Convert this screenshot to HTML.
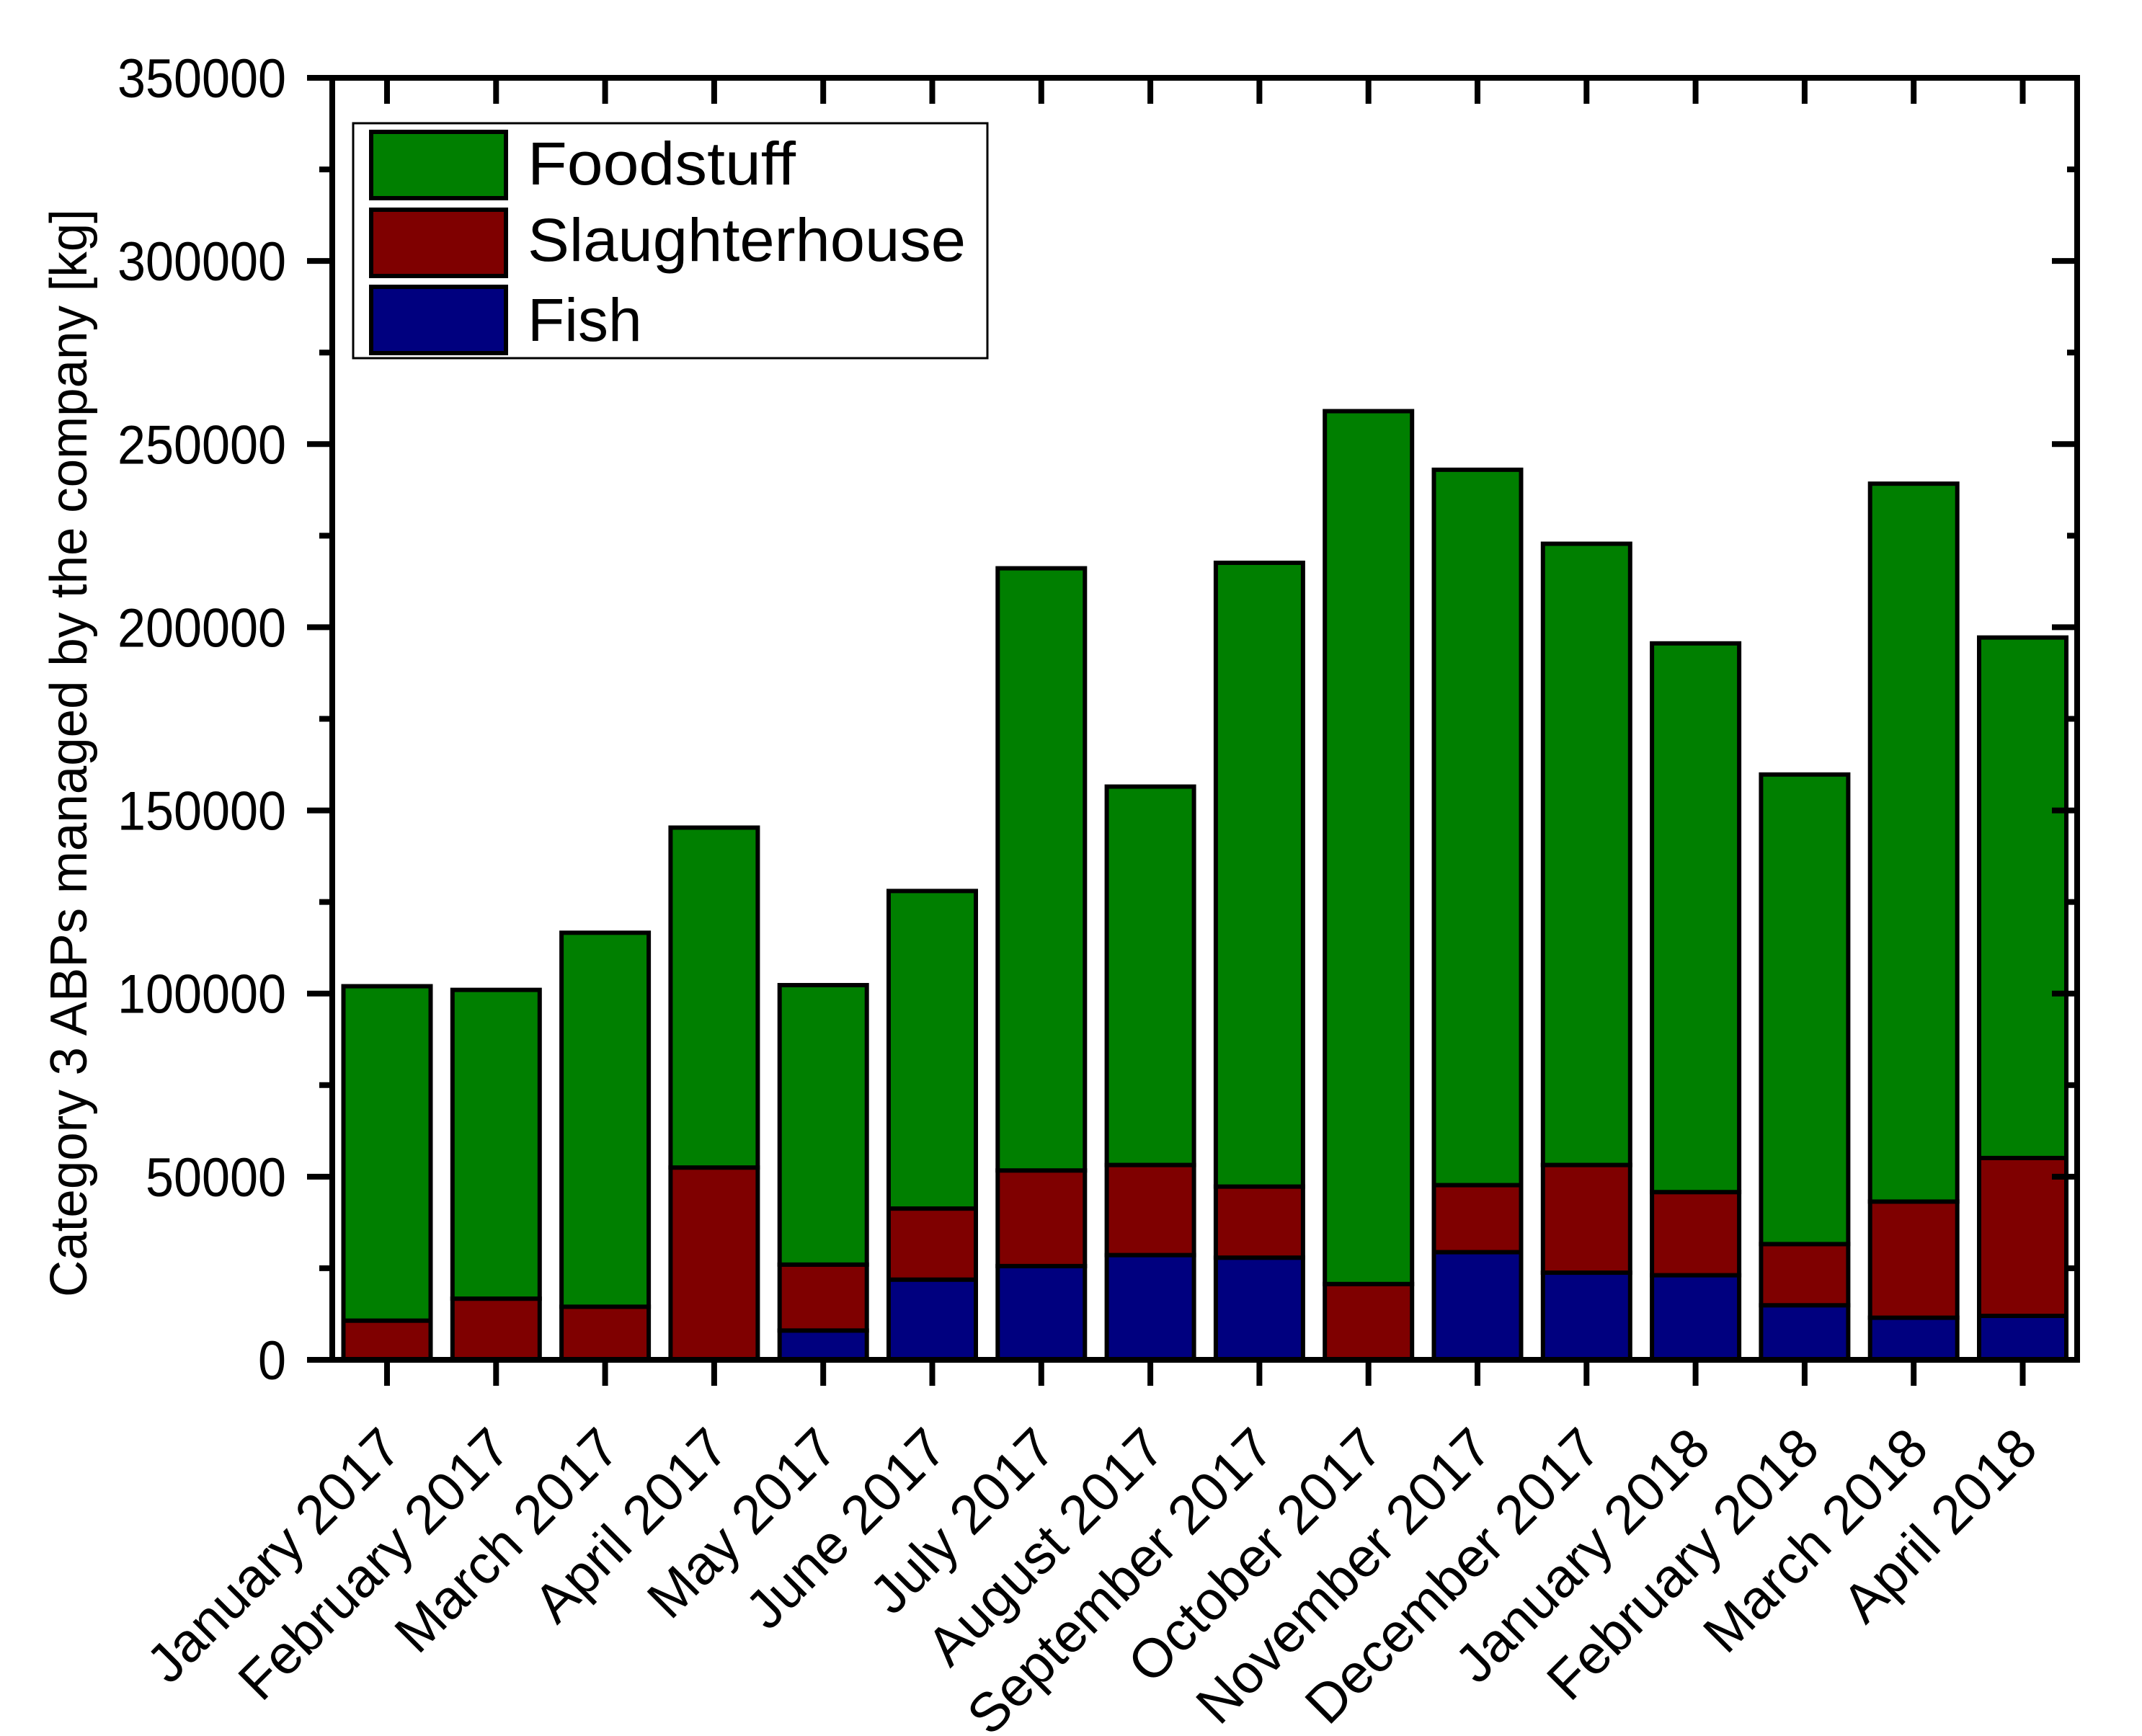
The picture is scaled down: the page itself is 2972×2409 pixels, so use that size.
<!DOCTYPE html>
<html><head><meta charset="utf-8"><style>html,body{margin:0;padding:0;background:#fff}svg{display:block}text{font-family:"Liberation Sans",Arial,sans-serif;fill:#000}</style></head>
<body>
<svg id="chart" width="2972" height="2409" viewBox="0 0 2972 2409" xmlns="http://www.w3.org/2000/svg">
<rect x="0" y="0" width="2972" height="2409" fill="#fff"/>
<g id="bars"></g>
<g id="axes"></g>
<text transform="translate(120,1045) rotate(-90)" text-anchor="middle" font-size="72" textLength="1510" lengthAdjust="spacingAndGlyphs">Category 3 ABPs managed by the company [kg]</text>
<g>
<rect x="490" y="171" width="880" height="326" fill="#fff" stroke="#000" stroke-width="3"/>
<rect x="515" y="183" width="187" height="92" fill="#007f00" stroke="#000" stroke-width="6"/>
<text x="732" y="256" font-size="84" textLength="372" lengthAdjust="spacingAndGlyphs">Foodstuff</text>
<rect x="515" y="291" width="187" height="92" fill="#7f0000" stroke="#000" stroke-width="6"/>
<text x="732" y="362" font-size="84" textLength="608" lengthAdjust="spacingAndGlyphs">Slaughterhouse</text>
<rect x="515" y="398" width="187" height="92" fill="#00007f" stroke="#000" stroke-width="6"/>
<text x="732" y="473" font-size="84">Fish</text>
</g>
</svg>
<script>
const categories = ["January 2017","February 2017","March 2017","April 2017","May 2017","June 2017","July 2017","August 2017","September 2017","October 2017","November 2017","December 2017","January 2018","February 2018","March 2018","April 2018"];
const fish = [0,0,0,0,8000,21900,25600,28600,27900,0,29400,23800,23100,14900,11500,12000];
const slaughterhouse = [10700,16700,14500,52500,18000,19400,26100,24600,19400,20700,18300,29400,22700,16700,31700,43100];
const foodstuff = [91300,84300,102100,92800,76300,86700,164400,103300,170300,238300,195300,169600,149800,128200,196000,142100];
const yTicks = [0,50000,100000,150000,200000,250000,300000,350000];
const yMax = 350000;

const NS = "http://www.w3.org/2000/svg";
const X0 = 461, X1 = 2882, Y0 = 1887, Y1 = 108;
const step = 151.3, first = 537, barW = 121;
function xPos(i){ return first + i*step; }
function yPos(v){ return Y0 - v/yMax*(Y0-Y1); }
function mk(tag, attrs, parent){ const e=document.createElementNS(NS,tag); for(const k in attrs) e.setAttribute(k,attrs[k]); parent.appendChild(e); return e; }

const bars = document.getElementById('bars');
const series = [[fish,'#00007f','fish'],[slaughterhouse,'#7f0000','slaughterhouse'],[foodstuff,'#007f00','foodstuff']];
categories.forEach((c,i)=>{
  let base = 0;
  series.forEach(([arr,col,nm])=>{
    const v = arr[i];
    if (v <= 0) return;
    const yt = yPos(base+v), yb = yPos(base);
    const r = mk('rect',{x:xPos(i)-barW/2, y:yt, width:barW, height:yb-yt, fill:col, stroke:'#000','stroke-width':6}, bars);
    
    
    base += v;
  });
});

const ax = document.getElementById('axes');
const frame = mk('rect',{x:X0,y:Y1,width:X1-X0,height:Y0-Y1,fill:'none',stroke:'#000','stroke-width':8}, ax);


for (let v=0; v<=yMax; v+=25000){
  const y = yPos(v), major = (v % 50000 === 0);
  const t1 = mk('line',{x1:X0, x2:X0-(major?35:18), y1:y, y2:y, stroke:'#000','stroke-width':8}, ax);
  
  
  const t2 = mk('line',{x1:X1, x2:X1-(major?35:14), y1:y, y2:y, stroke:'#000','stroke-width':8}, ax);
  
  
}
yTicks.forEach(v=>{
  const s = String(v);
  const t = mk('text',{x:397, y:yPos(v)+27, 'text-anchor':'end','font-size':76, textLength:s.length*39, lengthAdjust:'spacingAndGlyphs'}, ax);
  t.textContent = s;
  
  
});
categories.forEach((c,i)=>{
  const x = xPos(i);
  const tb = mk('line',{x1:x,x2:x,y1:Y0,y2:Y0+36,stroke:'#000','stroke-width':8}, ax);
  
  
  const tt = mk('line',{x1:x,x2:x,y1:Y1,y2:Y1+36,stroke:'#000','stroke-width':8}, ax);
  
  
  const lx = x + 24, ly = 2014;
  const t = mk('text',{x:lx, y:ly, 'text-anchor':'end','font-size':76, transform:'rotate(-45 '+lx+' '+ly+')'}, ax);
  t.textContent = c;
  
  
});
</script>
</body></html>
